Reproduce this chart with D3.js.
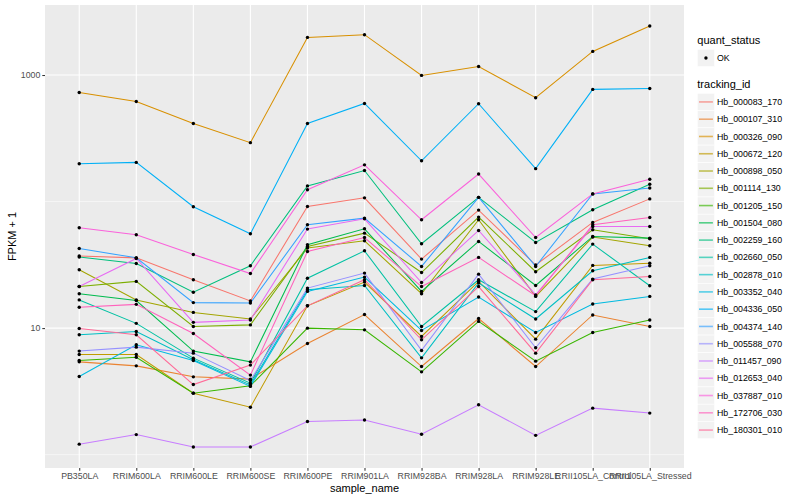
<!DOCTYPE html>
<html>
<head>
<meta charset="utf-8">
<script src="https://cdn.jsdelivr.net/npm/d3@7"></script>
<style>
  body { margin: 0; background: #fff; }
  svg { font-family: "Liberation Sans", Arial, Helvetica, sans-serif; }
</style>
</head>
<body>
<svg id="chart" width="800" height="500"></svg>
<script>
// ---------- data ----------
const samples = ["PB350LA", "RRIM600LA", "RRIM600LE", "RRIM600SE", "RRIM600PE", "RRIM901LA",
  "RRIM928BA", "RRIM928LA", "RRIM928LE", "RRII105LA_Control", "RRII105LA_Stressed"];

const trackingIds = ["Hb_000083_170", "Hb_000107_310", "Hb_000326_090", "Hb_000672_120", "Hb_000898_050",
  "Hb_001114_130", "Hb_001205_150", "Hb_001504_080", "Hb_002259_160", "Hb_002660_050",
  "Hb_002878_010", "Hb_003352_040", "Hb_004336_050", "Hb_004374_140", "Hb_005588_070",
  "Hb_011457_090", "Hb_012653_040", "Hb_037887_010", "Hb_172706_030", "Hb_180301_010"];

// FPKM + 1 per sample, one array per tracking id
const Hb_000083_170 = [37.1, 35.9, 24.1, 16.4, 91.5, 107, 35.1, 85.6, 31.5, 68.4, 105];
const Hb_000107_310 = [5.41, 5.03, 4.12, 3.95, 7.56, 12.8, 4.97, 11.9, 4.97, 12.7, 10.3];
const Hb_000326_090 = [728, 618, 414, 292, 1983, 2083, 993, 1169, 662, 1537, 2438];
const Hb_000672_120 = [6.19, 6.19, 3.06, 2.37, 15.0, 23.1, 8.59, 23.4, 8.18, 31.3, 32.6];
const Hb_000898_050 = [28.9, 16.7, 13.3, 11.8, 42.9, 49.0, 18.7, 71.8, 17.8, 52.4, 44.7];
const Hb_001114_130 = [21.3, 23.4, 10.3, 10.6, 44.2, 56.3, 27.5, 75.4, 27.9, 59.8, 50.8];
const Hb_001205_150 = [5.55, 5.89, 3.06, 3.50, 9.99, 9.69, 4.51, 11.3, 5.48, 9.23, 11.6];
const Hb_001504_080 = [18.7, 16.5, 6.58, 5.41, 45.6, 60.9, 19.5, 48.4, 21.7, 53.0, 51.4];
const Hb_002259_160 = [36.4, 32.4, 19.2, 31.1, 133, 176, 46.4, 108, 47.5, 86.1, 137];
const Hb_002660_050 = [16.7, 10.9, 5.79, 3.67, 24.8, 40.8, 10.3, 24.1, 13.5, 46.1, 21.6];
const Hb_002878_010 = [8.85, 9.40, 5.62, 3.56, 20.1, 21.7, 5.82, 22.7, 11.8, 28.4, 36.2];
const Hb_003352_040 = [4.15, 7.38, 5.55, 3.46, 19.5, 25.3, 9.58, 17.6, 9.23, 15.5, 17.8];
const Hb_004336_050 = [199, 204, 91, 55.6, 414, 596, 210, 593, 182, 770, 783];
const Hb_004374_140 = [42.6, 35.9, 15.9, 15.8, 65.5, 74.0, 30.7, 108, 30.7, 115, 128];
const Hb_005588_070 = [6.58, 7.07, 6.34, 3.85, 20.7, 27.2, 6.66, 26.7, 6.99, 24.4, 31.1];
const Hb_011457_090 = [1.21, 1.44, 1.15, 1.15, 1.83, 1.88, 1.45, 2.48, 1.42, 2.33, 2.13];
const Hb_012653_040 = [21.3, 35.5, 11.1, 11.6, 60.6, 73.1, 22.9, 59.1, 18.3, 63.6, 63.6];
const Hb_037887_010 = [62.1, 54.6, 38.2, 27.0, 124, 195, 71.8, 165, 52.0, 115, 150];
const Hb_172706_030 = [14.6, 15.4, 9.07, 4.25, 40.3, 52.0, 21.3, 36.2, 18.0, 65.5, 74.9];
const Hb_180301_010 = [9.93, 8.85, 3.58, 5.10, 15.0, 24.1, 8.08, 21.3, 6.34, 24.1, 25.6];

const quantStatus = ["OK"];
const yTicks = [10, 1000];

// ---------- styles ----------
const palette = ["#F8766D", "#EA8331", "#D89000", "#C09B00", "#A3A500", "#7CAE00", "#39B600", "#00BB4E",
  "#00BF7D", "#00C1A3", "#00BFC4", "#00BAE0", "#00B0F6", "#35A2FF", "#9590FF", "#C77CFF",
  "#E76BF3", "#FA62DB", "#FF62BC", "#FF6A98"];

const seriesValues = [Hb_000083_170, Hb_000107_310, Hb_000326_090, Hb_000672_120, Hb_000898_050,
  Hb_001114_130, Hb_001205_150, Hb_001504_080, Hb_002259_160, Hb_002660_050,
  Hb_002878_010, Hb_003352_040, Hb_004336_050, Hb_004374_140, Hb_005588_070,
  Hb_011457_090, Hb_012653_040, Hb_037887_010, Hb_172706_030, Hb_180301_010];

const series = trackingIds.map((id, i) => ({
  id, color: palette[i],
  values: samples.map((s, j) => ({ sample: s, value: seriesValues[i][j] }))
}));

// ---------- layout ----------
const svg = d3.select("#chart");
const P = { left: 45, right: 684, top: 5, bottom: 468 };

const x = d3.scalePoint().domain(samples).range([P.left, P.right]).padding(0.6);

const allVals = seriesValues.flat();
const lmin = Math.log10(d3.min(allVals)), lmax = Math.log10(d3.max(allVals));
const ex = (lmax - lmin) * 0.05;
const y = d3.scaleLog().domain([Math.pow(10, lmin - ex), Math.pow(10, lmax + ex)]).range([P.bottom, P.top]);

// panel
svg.append("rect").attr("x", P.left).attr("y", P.top)
  .attr("width", P.right - P.left).attr("height", P.bottom - P.top).attr("fill", "#EBEBEB");

// minor y grid (geometric midpoints between breaks)
const minorY = [1, 100, 10000].filter(v => y(v) >= P.top && y(v) <= P.bottom);
svg.append("g").selectAll("line").data(minorY).join("line")
  .attr("x1", P.left).attr("x2", P.right).attr("y1", d => y(d)).attr("y2", d => y(d))
  .attr("stroke", "#fff").attr("stroke-width", 0.55);
// major grid
svg.append("g").selectAll("line").data(yTicks).join("line")
  .attr("x1", P.left).attr("x2", P.right).attr("y1", d => y(d)).attr("y2", d => y(d))
  .attr("stroke", "#fff").attr("stroke-width", 1.1);
svg.append("g").selectAll("line").data(samples).join("line")
  .attr("x1", d => x(d)).attr("x2", d => x(d)).attr("y1", P.top).attr("y2", P.bottom)
  .attr("stroke", "#fff").attr("stroke-width", 1.1);

// lines
const line = d3.line().x(d => x(d.sample)).y(d => y(d.value));
svg.append("g").selectAll("path").data(series).join("path")
  .attr("d", d => line(d.values)).attr("fill", "none")
  .attr("stroke", d => d.color).attr("stroke-width", 1.05);

// points
svg.append("g").selectAll("g").data(series).join("g")
  .selectAll("circle").data(d => d.values).join("circle")
  .attr("cx", d => x(d.sample)).attr("cy", d => y(d.value)).attr("r", 1.7).attr("fill", "#000");

// axes
const yAxis = svg.append("g").attr("transform", `translate(${P.left},0)`)
  .call(d3.axisLeft(y).tickValues(yTicks).tickFormat(d3.format("d")).tickSize(2.7).tickPadding(2));
const xAxis = svg.append("g").attr("transform", `translate(0,${P.bottom})`)
  .call(d3.axisBottom(x).tickSize(2.7).tickPadding(2.5));
[yAxis, xAxis].forEach(a => {
  a.select(".domain").remove();
  a.selectAll(".tick line").attr("stroke", "#333333").attr("stroke-width", 1.05);
  a.selectAll(".tick text").attr("fill", "#4D4D4D").style("font-size", "8.8px")
    .style("font-family", "'Liberation Sans', Arial, sans-serif");
});

// axis titles
svg.append("text").attr("x", (P.left + P.right) / 2).attr("y", 492)
  .attr("text-anchor", "middle").style("font-size", "11px").attr("fill", "#000").text("sample_name");
svg.append("text").attr("transform", `translate(16,${(P.top + P.bottom) / 2}) rotate(-90)`)
  .attr("text-anchor", "middle").style("font-size", "11px").attr("fill", "#000").text("FPKM + 1");

// legends
const LX = 697.3, KW = 17.3, KH = 17.27;
const lg = svg.append("g");
lg.append("text").attr("x", LX).attr("y", 44).style("font-size", "11px").text("quant_status");
const qk = lg.selectAll("g.q").data(quantStatus).join("g").attr("class", "q")
  .attr("transform", (d, i) => `translate(${LX},${49.3 + i * KH})`);
qk.append("rect").attr("width", KW).attr("height", KH).attr("fill", "#F2F2F2").attr("stroke", "#fff").attr("stroke-width", 0.6);
qk.append("circle").attr("cx", KW / 2).attr("cy", KH / 2).attr("r", 1.7).attr("fill", "#000");
qk.append("text").attr("x", KW + 2.4).attr("y", KH / 2 + 3.1).style("font-size", "8.8px").attr("fill", "#000").text(d => d);

lg.append("text").attr("x", LX).attr("y", 87.5).style("font-size", "11px").text("tracking_id");
const tk = lg.selectAll("g.t").data(series).join("g").attr("class", "t")
  .attr("transform", (d, i) => `translate(${LX},${93.3 + i * KH})`);
tk.append("rect").attr("width", KW).attr("height", KH).attr("fill", "#F2F2F2").attr("stroke", "#fff").attr("stroke-width", 0.6);
tk.append("line").attr("x1", 1.7).attr("x2", KW - 1.7).attr("y1", KH / 2).attr("y2", KH / 2)
  .attr("stroke", d => d.color).attr("stroke-width", 1.6).attr("stroke-opacity", 0.65);
tk.append("text").attr("x", KW + 2.4).attr("y", KH / 2 + 3.1).style("font-size", "8.8px").attr("fill", "#000").text(d => d.id);
</script>
</body>
</html>
